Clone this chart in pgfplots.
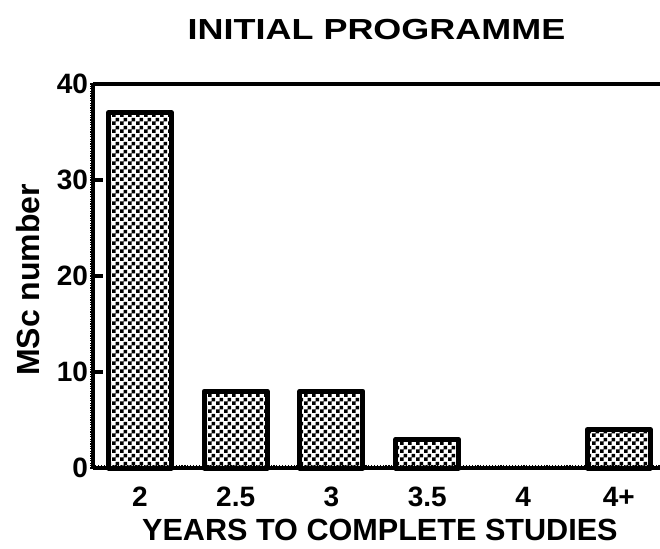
\documentclass[border=0pt]{standalone}
\usepackage{fontspec}
\setmainfont{Liberation Sans}
\usepackage{graphicx}
\usepackage{pgfplots}
\pgfplotsset{compat=1.18}
\usetikzlibrary{patterns}
\pgfdeclarepatternformonly{smallchecker}{\pgfpointorigin}{\pgfqpoint{4pt}{4pt}}{\pgfqpoint{4pt}{4pt}}{%
  \pgfpathrectangle{\pgfpointorigin}{\pgfqpoint{2pt}{2pt}}%
  \pgfpathrectangle{\pgfqpoint{2pt}{2pt}}{\pgfqpoint{2pt}{2pt}}%
  \pgfusepath{fill}}
\begin{document}
\begin{tikzpicture}
\useasboundingbox (-46.5pt,-40pt) rectangle (283.5pt,234pt);
\begin{axis}[
  at={(0,0)}, anchor=south west,
  scale only axis, width=283.5pt, height=192pt,
  xmin=-0.49, xmax=5.43, ymin=0, ymax=40,
  axis x line=box, axis y line=left,
  axis line style={line width=1.6pt, -},
  clip=false,
  xtick={0,1,2,3,4,5},
  xticklabels={2,2.5,3,3.5,4,4+},
  ytick={0,10,20,30,40},
  minor ytick={0,0.25,...,40},
  minor xtick={-0.49,-0.46,...,5.43},
  xtick pos=bottom, ytick pos=left,
  tick align=inside,
  major tick length=5pt,
  minor tick length=-1.6pt,
  every tick/.style={black, line width=1.6pt},
  minor tick style={black, line width=0.6pt},
  major x tick style={draw=none},
  /pgf/number format/assume math mode=true,
  tick label style={font=\fontsize{14}{16}\selectfont\bfseries},
  xticklabel style={anchor=base, yshift=-14pt},
  yticklabel style={anchor=east, xshift=1pt},
  xlabel={YEARS TO COMPLETE STUDIES},
  xlabel style={at={(axis description cs:0.506,0)}, anchor=base, yshift=-36pt, font=\fontsize{15.3}{18}\selectfont\bfseries},
  ylabel={MSc number},
  ylabel style={at={(axis description cs:0,0.49)}, anchor=base, yshift=26.5pt, font=\fontsize{16}{19}\selectfont\bfseries},
  title={\scalebox{1.24}[1]{\fontsize{14.5}{17}\selectfont\bfseries INITIAL PROGRAMME}},
  title style={at={(axis description cs:0.5,1)}, anchor=base, yshift=16.5pt},
  ybar, bar width=31.5pt,
]
\addplot[draw=black, line width=2.5pt, line join=round, pattern=smallchecker, pattern color=black]
  coordinates {(0,37) (1,8) (2,8) (3,3) (5,4)};
\end{axis}
\end{tikzpicture}
\end{document}
